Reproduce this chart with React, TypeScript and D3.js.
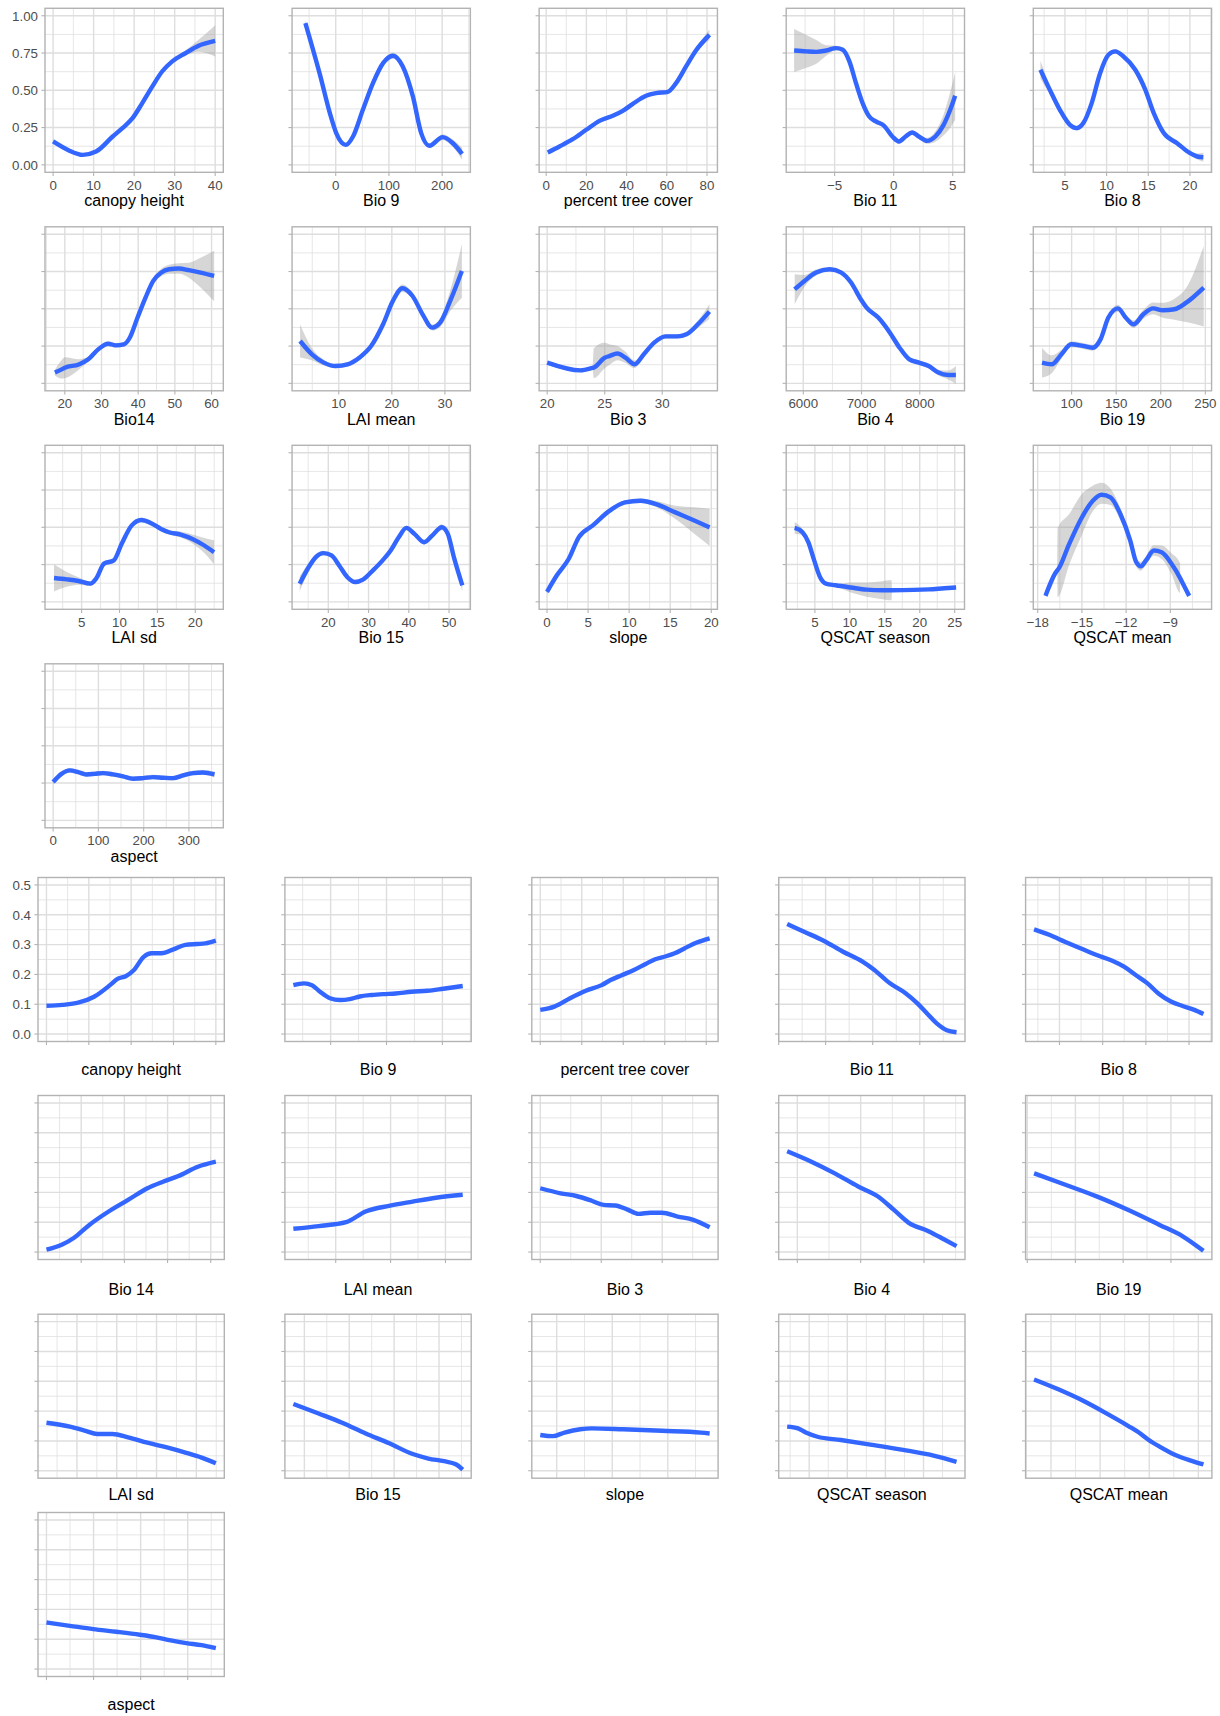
import React from "react";
import * as d3 from "d3";

// [x, fitted value, band below, band above]
type Pt = [number, number, number, number];
type BPt = [number, number];

// ---------------- Upper block: smooth fits with confidence bands ----------------
const canopyHeight: Pt[] = [[0,0.157,.015,.015],[3.67,0.1,.012,.012],[7.35,0.067,.01,.01],[10.6,0.089,.01,.01],[14.7,0.19,.01,.01],[17.1,0.246,.01,.01],[19.6,0.313,.01,.01],[22,0.414,.01,.01],[24.5,0.526,.01,.01],[26.9,0.626,.01,.01],[29.4,0.694,.012,.012],[32.7,0.75,.018,.018],[35.9,0.799,.04,.04],[40,0.832,.105,.105]];
const bio9: Pt[] = [[-57,0.951,.02,.02],[-30,0.61,.015,.015],[-11,0.347,.012,.012],[1,0.213,.012,.012],[19,0.134,.012,.012],[32.5,0.19,.012,.012],[51,0.369,.012,.012],[70,0.548,.012,.012],[89,0.682,.015,.015],[107.5,0.732,.02,.02],[126,0.66,.015,.015],[145,0.459,.012,.012],[160.6,0.213,.012,.012],[176,0.128,.015,.015],[201,0.186,.02,.02],[220,0.145,.025,.025],[237.5,0.074,.04,.04]];
const percentTreeCover: Pt[] = [[0.8,0.083,.012,.012],[6.6,0.123,.01,.01],[13.2,0.172,.01,.01],[19.9,0.235,.01,.01],[26.5,0.295,.01,.01],[33.1,0.329,.01,.01],[38.1,0.362,.01,.01],[43.1,0.409,.01,.01],[49.7,0.463,.01,.01],[54.7,0.481,.01,.01],[60.5,0.49,.01,.01],[64.6,0.548,.01,.01],[69.6,0.66,.012,.012],[74.5,0.767,.015,.015],[81.2,0.872,.035,.035]];
const bio11: Pt[] = [[-8.43,0.767,.145,.145],[-7.39,0.761,.11,.11],[-6.55,0.758,.08,.08],[-5.71,0.767,.035,.035],[-4.87,0.783,.015,.015],[-4.31,0.772,.015,.015],[-3.75,0.694,.015,.015],[-3.19,0.548,.015,.015],[-2.63,0.414,.015,.015],[-2.07,0.324,.015,.015],[-1.51,0.291,.015,.015],[-0.81,0.262,.015,.015],[-0.11,0.19,.015,.015],[0.45,0.157,.015,.015],[1.01,0.19,.015,.015],[1.57,0.217,.015,.015],[2.13,0.19,.015,.015],[2.83,0.161,.02,.02],[3.53,0.19,.035,.035],[4.23,0.268,.07,.07],[4.79,0.369,.12,.12],[5.21,0.463,.16,.16]];
const bio8: Pt[] = [[2.06,0.638,.06,.06],[3.19,0.503,.03,.03],[4.39,0.369,.015,.015],[5.6,0.268,.015,.015],[6.4,0.246,.015,.015],[7.21,0.28,.012,.012],[8.21,0.414,.012,.012],[9.22,0.615,.012,.012],[10.22,0.738,.015,.015],[11.03,0.761,.015,.015],[12.03,0.727,.015,.015],[13.44,0.638,.015,.015],[14.65,0.503,.015,.015],[15.66,0.347,.015,.015],[16.86,0.213,.015,.015],[18.47,0.145,.015,.015],[19.88,0.083,.015,.015],[20.88,0.056,.02,.02],[21.61,0.051,.03,.03]];
const bio14: Pt[] = [[17.3,0.072,.02,.02],[19,0.092,.06,.06],[20,0.105,.07,.07],[23.8,0.127,.035,.035],[26.4,0.161,.015,.015],[29.1,0.228,.015,.015],[31.8,0.266,.015,.015],[33.9,0.255,.015,.015],[36.1,0.262,.015,.015],[37.7,0.306,.015,.015],[39.8,0.44,.015,.015],[42,0.575,.015,.015],[44.1,0.687,.02,.02],[46.3,0.743,.025,.025],[48.4,0.765,.03,.03],[51.1,0.77,.035,.035],[53.8,0.759,.05,.05],[57,0.743,.1,.1],[60.7,0.72,.17,.17]];
const laiMean: Pt[] = [[2.71,0.284,.11,.11],[4.94,0.195,.04,.04],[7.17,0.139,.02,.02],[9.41,0.116,.015,.015],[11.64,0.127,.015,.015],[13.87,0.172,.015,.015],[16.1,0.25,.015,.015],[18.35,0.396,.015,.015],[20.2,0.553,.02,.02],[22,0.638,.025,.025],[23.9,0.586,.02,.02],[25.8,0.463,.015,.015],[27.6,0.374,.02,.02],[29.1,0.407,.03,.03],[31,0.553,.07,.07],[33.2,0.754,.18,.18]];
const bio3: Pt[] = [[20,0.139,.012,.012],[22.9,0.087,.012,.012],[23.95,0.104,.012,.012],[24.05,0.106,.07,.13],[25,0.172,.07,.1],[25.4,0.183,.06,.08],[26.1,0.2,.045,.05],[26.8,0.172,.035,.04],[27.6,0.128,.025,.025],[28.4,0.195,.015,.015],[29.3,0.273,.015,.015],[30.3,0.315,.015,.015],[31.3,0.315,.015,.015],[32.1,0.329,.015,.015],[33.1,0.396,.025,.025],[34.1,0.481,.05,.05]];
const bio4: Pt[] = [[5853,0.631,.1,.1],[6020,0.687,.04,.04],[6220,0.743,.02,.02],[6453,0.765,.015,.015],[6653,0.743,.015,.015],[6820,0.676,.015,.015],[6987,0.564,.015,.015],[7087,0.508,.015,.015],[7287,0.441,.015,.015],[7487,0.34,.015,.015],[7653,0.239,.015,.015],[7820,0.161,.015,.015],[7987,0.139,.015,.015],[8153,0.116,.015,.015],[8320,0.072,.02,.02],[8487,0.056,.03,.03],[8620,0.056,.06,.06]];
const bio19: Pt[] = [[66.8,0.139,.1,.1],[77.7,0.128,.06,.06],[88.6,0.195,.03,.03],[99.6,0.262,.02,.02],[112.7,0.251,.02,.02],[123.6,0.239,.02,.02],[132.4,0.295,.02,.02],[141.1,0.44,.02,.02],[152,0.503,.025,.025],[160.8,0.44,.02,.02],[169.5,0.396,.025,.025],[180.5,0.463,.03,.03],[191.4,0.503,.04,.04],[202.3,0.49,.05,.05],[215.4,0.497,.07,.07],[228.6,0.541,.13,.1],[248.2,0.642,.26,.28]];
const laiSd: Pt[] = [[1.36,0.16,.09,.09],[3.03,0.151,.05,.05],[4.58,0.14,.025,.025],[6.14,0.122,.015,.015],[6.92,0.156,.015,.015],[7.96,0.256,.015,.015],[9.25,0.278,.015,.015],[10.29,0.389,.015,.015],[11.59,0.511,.015,.015],[12.89,0.549,.015,.015],[14.18,0.527,.015,.015],[15.48,0.489,.015,.015],[16.52,0.467,.015,.015],[18.07,0.451,.02,.02],[19.63,0.422,.03,.03],[21.19,0.378,.05,.05],[22.48,0.333,.08,.08]];
const bio15: Pt[] = [[12.9,0.122,.05,.05],[14.9,0.222,.03,.03],[16.9,0.3,.02,.02],[18.8,0.327,.015,.015],[20.8,0.311,.015,.015],[22.7,0.244,.015,.015],[24.7,0.167,.015,.015],[26.7,0.133,.015,.015],[28.6,0.149,.015,.015],[31.1,0.211,.015,.015],[33.5,0.278,.015,.015],[35.5,0.344,.015,.015],[37.5,0.433,.015,.015],[39.4,0.496,.015,.015],[41.4,0.456,.015,.015],[43.8,0.4,.015,.015],[45.8,0.444,.015,.015],[48.2,0.5,.02,.02],[49.7,0.456,.02,.02],[51.2,0.3,.02,.02],[53.3,0.111,.04,.04]];
const slope: Pt[] = [[0,0.067,.015,.015],[1.2,0.178,.012,.012],[2.65,0.289,.01,.01],[3.86,0.433,.01,.01],[5.54,0.511,.01,.01],[7.59,0.61,.01,.01],[9.49,0.667,.012,.012],[11.38,0.678,.015,.015],[13.27,0.656,.02,.02],[15.63,0.6,.045,.045],[18,0.544,.09,.09],[19.8,0.5,.125,.125]];
const qscatSeason: Pt[] = [[2.11,0.496,.04,.04],[3.23,0.467,.02,.02],[4.06,0.4,.01,.01],[4.9,0.278,.01,.01],[5.73,0.167,.01,.01],[6.57,0.122,.008,.008],[7.96,0.111,.01,.01],[10.17,0.096,.033,.033],[12.4,0.082,.048,.048],[14.6,0.078,.06,.06],[15.95,0.078,.068,.068],[16.05,0.078,.004,.004],[19.1,0.08,.004,.004],[21.3,0.084,.004,.004],[23.5,0.091,.005,.005],[25.2,0.096,.006,.006]];
const qscatMean: Pt[] = [[-17.47,0.04,.004,.004],[-16.67,0.211,.004,.004],[-16.65,0.213,.18,.28],[-15.86,0.389,.14,.2],[-15.06,0.556,.12,.16],[-14.26,0.678,.07,.1],[-13.67,0.718,.06,.08],[-13.06,0.7,.05,.06],[-12.39,0.589,.04,.04],[-11.72,0.411,.03,.03],[-11.32,0.267,.03,.03],[-11,0.238,.03,.03],[-10.65,0.278,.03,.03],[-10.12,0.344,.035,.035],[-9.59,0.333,.045,.045],[-8.92,0.256,.07,.07],[-8.34,0.16,.1,.1],[-8.32,0.156,.004,.004],[-7.72,0.04,.004,.004]];
const aspect: Pt[] = [[0,0.257,.015,.015],[18.4,0.312,.015,.015],[36.8,0.335,.015,.015],[55.1,0.324,.015,.015],[73.5,0.308,.015,.015],[91.9,0.312,.015,.015],[110.3,0.317,.015,.015],[132.4,0.308,.015,.015],[154.4,0.295,.015,.015],[176.5,0.279,.015,.015],[198.5,0.283,.015,.015],[220.6,0.29,.015,.015],[242.6,0.286,.015,.015],[264.7,0.283,.015,.015],[286.8,0.301,.015,.015],[308.8,0.317,.015,.015],[330.9,0.321,.015,.015],[356.6,0.308,.02,.02]];

const topTitles = ["canopy height","Bio 9","percent tree cover","Bio 11","Bio 8","Bio14","LAI mean","Bio 3","Bio 4","Bio 19","LAI sd","Bio 15","slope","QSCAT season","QSCAT mean","aspect"];
const topXLims: [number, number][] = [[-2,42],[-82,253],[-3.5,85.2],[-9.1,6.0],[1.2,22.6],[14.6,63.2],[1.2,34.8],[19.3,34.8],[5707,8768],[57,257],[0.17,23.7],[11,55.3],[-0.96,20.75],[0.9,26.4],[-18.3,-6.2],[-18,376]];
const topXBreaks: number[][] = [[0,10,20,30,40],[0,100,200],[0,20,40,60,80],[-5,0,5],[5,10,15,20],[20,30,40,50,60],[10,20,30],[20,25,30],[6000,7000,8000],[100,150,200,250],[5,10,15,20],[20,30,40,50],[0,5,10,15,20],[5,10,15,20,25],[-18,-15,-12,-9],[0,100,200,300]];
const topSeries: Pt[][] = [canopyHeight,bio9,percentTreeCover,bio11,bio8,bio14,laiMean,bio3,bio4,bio19,laiSd,bio15,slope,qscatSeason,qscatMean,aspect];
const topYBreaks = [0, 0.25, 0.5, 0.75, 1];
const topYLabels = ["0.00","0.25","0.50","0.75","1.00"];

// ---------------- Lower block: fitted lines (x rescaled, 0..100 = data range) ----------------
const canopyHeightB: BPt[] = [[0,0.095],[9.4,0.098],[18.7,0.105],[28.1,0.125],[37.5,0.164],[42.2,0.186],[46.8,0.194],[51.5,0.214],[57.4,0.259],[62,0.271],[68,0.271],[75,0.284],[82,0.299],[89,0.302],[93.8,0.304],[100,0.313]];
const bio9B: BPt[] = [[0,0.164],[6.3,0.17],[11,0.164],[15.7,0.142],[21.6,0.12],[27.5,0.114],[33.3,0.117],[39.2,0.126],[46.2,0.131],[53.3,0.134],[60.4,0.136],[69.7,0.142],[79.1,0.145],[88.6,0.152],[100,0.161]];
const percentTreeCoverB: BPt[] = [[0,0.081],[8.3,0.092],[17.6,0.12],[26.9,0.145],[36.2,0.164],[41.5,0.181],[48.4,0.198],[55.3,0.215],[62.2,0.235],[67.9,0.251],[73.7,0.26],[79.4,0.271],[85.1,0.287],[92,0.306],[100,0.321]];
const bio11B: BPt[] = [[0,0.369],[10,0.343],[21.5,0.313],[33,0.276],[44.5,0.243],[51.5,0.215],[60.7,0.17],[69.9,0.137],[76.9,0.103],[82.6,0.069],[88.3,0.036],[94.2,0.013],[100,0.006]];
const bio8B: BPt[] = [[0,0.351],[9.3,0.332],[18.5,0.309],[27.7,0.287],[37,0.265],[46.2,0.246],[53.1,0.226],[60,0.198],[67,0.17],[73.8,0.134],[80.8,0.109],[87.7,0.094],[94.6,0.081],[100,0.067]];
const bio14B: BPt[] = [[0,0.008],[9.3,0.025],[16.1,0.047],[25.3,0.091],[36.7,0.136],[48.2,0.175],[59.6,0.214],[68.8,0.236],[77.9,0.255],[89.4,0.286],[100,0.303]];
const laiMeanB: BPt[] = [[0,0.078],[14.9,0.087],[31.1,0.1],[42.6,0.136],[56.5,0.155],[70.4,0.169],[84.2,0.182],[100,0.192]];
const bio3B: BPt[] = [[0,0.214],[12,0.197],[21.3,0.188],[30.4,0.172],[37.3,0.158],[44.3,0.156],[51.2,0.143],[58,0.128],[65,0.132],[71.9,0.132],[81.1,0.119],[90.3,0.108],[100,0.083]];
const bio4B: BPt[] = [[0,0.338],[14.3,0.303],[28.1,0.264],[41.9,0.22],[53.4,0.187],[62.7,0.143],[71.8,0.098],[83.4,0.07],[92.5,0.043],[100,0.02]];
const bio19B: BPt[] = [[0,0.264],[18.9,0.225],[37.3,0.186],[55.7,0.141],[74.1,0.091],[88,0.052],[100,0.004]];
const laiSdB: BPt[] = [[0,0.161],[13.8,0.148],[23,0.134],[29.9,0.123],[39,0.123],[48.2,0.112],[59.6,0.094],[71.1,0.078],[82.5,0.06],[91.6,0.044],[100,0.025]];
const bio15B: BPt[] = [[0,0.224],[14.9,0.192],[28.8,0.161],[42.7,0.125],[56.6,0.092],[70.5,0.056],[79.7,0.041],[89,0.032],[95.9,0.022],[100,0.004]];
const slopeB: BPt[] = [[0,0.12],[7.4,0.116],[14.3,0.128],[23.6,0.139],[30.4,0.142],[48.9,0.139],[71.9,0.134],[94.9,0.128],[100,0.125]];
const qscatSeasonB: BPt[] = [[0,0.148],[6.4,0.142],[11,0.128],[17.9,0.114],[31.7,0.103],[50.1,0.087],[68.5,0.07],[87,0.05],[100,0.03]];
const qscatMeanB: BPt[] = [[0,0.306],[14.3,0.273],[28.1,0.237],[41.9,0.195],[55.7,0.15],[62.7,0.125],[67.3,0.105],[74.1,0.081],[83.4,0.053],[92.6,0.034],[100,0.021]];
const aspectB: BPt[] = [[0,0.156],[13.8,0.145],[27.6,0.134],[41.3,0.125],[55.1,0.115],[64.2,0.107],[73.4,0.096],[82.5,0.087],[91.6,0.08],[100,0.07]];

const bottomTitles = ["canopy height","Bio 9","percent tree cover","Bio 11","Bio 8","Bio 14","LAI mean","Bio 3","Bio 4","Bio 19","LAI sd","Bio 15","slope","QSCAT season","QSCAT mean","aspect"];
const bottomXBreaks: number[][] = [[0,25,50,75,100],[22,55,88],[0,24.5,49,73.5,98],[-5,22.7,50.5,78.3],[15,40.5,66,91.5],[20.5,46,71.5,97],[25,57.4,89.8],[0,36,72],[6,43.4,80.8],[-4,24.4,52.6,80.8],[18,41.5,65,88.5],[6.5,33,59.5,86],[9.7,42.5,75.3],[13,35.5,58,80.5],[10,39,68,97],[0,27.8,55.6,83.4]];
const bottomSeries: BPt[][] = [canopyHeightB,bio9B,percentTreeCoverB,bio11B,bio8B,bio14B,laiMeanB,bio3B,bio4B,bio19B,laiSdB,bio15B,slopeB,qscatSeasonB,qscatMeanB,aspectB];
const bottomXLim: [number, number] = [-5, 105];
const bottomYBreaks = [0, 0.1, 0.2, 0.3, 0.4, 0.5];
const bottomYLabels = ["0.0","0.1","0.2","0.3","0.4","0.5"];

// ---------------- drawing ----------------
const FONT = '"Liberation Sans", Arial, Helvetica, sans-serif';
const GRID = "#DEDEDE";
const BORDER = "#B3B3B3";
const BLUE = "#3366FF";
const TICK_LEN = 3.6;
const TICK_FONT = 13.3;

function minorBreaks(major: number[], dom: [number, number]): number[] {
  if (major.length < 2) return [];
  const step = major[1] - major[0];
  const c = [major[0] - step / 2];
  for (let i = 1; i < major.length; i++) c.push((major[i - 1] + major[i]) / 2);
  c.push(major[major.length - 1] + step / 2);
  return c.filter(v => v >= dom[0] && v <= dom[1]);
}

function fmt(v: number): string {
  const s = String(v);
  return v < 0 ? "\u2212" + s.slice(1) : s;
}

type PanelProps = {
  left: number; top: number; width: number; height: number;
  xDom: [number, number]; yDom: [number, number];
  xBreaks: number[]; yBreaks: number[];
  xLabels: boolean; yLabels: string[] | null; xTicks: boolean;
  title: string; titleGap: number;
  band: Pt[] | null; line: [number, number][];
};

function Panel(p: PanelProps) {
  const xs = d3.scaleLinear().domain(p.xDom).range([p.left, p.left + p.width]);
  const ys = d3.scaleLinear().domain(p.yDom).range([p.top + p.height, p.top]);
  const xMinor = minorBreaks(p.xBreaks, p.xDom);
  const yMinor = minorBreaks(p.yBreaks, p.yDom);
  const bottom = p.top + p.height;
  const right = p.left + p.width;
  const lineGen = d3.line<[number, number]>().x(d => xs(d[0])).y(d => ys(d[1])).curve(d3.curveMonotoneX);
  const areaGen = d3.area<Pt>().x(d => xs(d[0])).y0(d => ys(d[1] - d[2])).y1(d => ys(d[1] + d[3])).curve(d3.curveMonotoneX);
  return (
    <g>
      <rect x={p.left} y={p.top} width={p.width} height={p.height} fill="#FFFFFF" />
      {xMinor.map((v, i) => <line key={"xm" + i} x1={xs(v)} x2={xs(v)} y1={p.top} y2={bottom} stroke={GRID} strokeWidth={0.75} />)}
      {yMinor.map((v, i) => <line key={"ym" + i} x1={p.left} x2={right} y1={ys(v)} y2={ys(v)} stroke={GRID} strokeWidth={0.75} />)}
      {p.xBreaks.map((v, i) => <line key={"xM" + i} x1={xs(v)} x2={xs(v)} y1={p.top} y2={bottom} stroke={GRID} strokeWidth={1.4} />)}
      {p.yBreaks.map((v, i) => <line key={"yM" + i} x1={p.left} x2={right} y1={ys(v)} y2={ys(v)} stroke={GRID} strokeWidth={1.4} />)}
      {p.band && <path d={areaGen(p.band) || ""} fill="#999999" fillOpacity={0.4} />}
      <path d={lineGen(p.line) || ""} fill="none" stroke={BLUE} strokeWidth={4.4} strokeLinecap="butt" strokeLinejoin="round" />
      <rect x={p.left} y={p.top} width={p.width} height={p.height} fill="none" stroke={BORDER} strokeWidth={1.4} />
      {p.yBreaks.map((v, i) => <line key={"yt" + i} x1={p.left - TICK_LEN} x2={p.left} y1={ys(v)} y2={ys(v)} stroke={BORDER} strokeWidth={1.1} />)}
      {p.xTicks && p.xBreaks.map((v, i) => <line key={"xt" + i} x1={xs(v)} x2={xs(v)} y1={bottom} y2={bottom + TICK_LEN} stroke={BORDER} strokeWidth={1.1} />)}
      {p.yLabels && p.yBreaks.map((v, i) => (
        <text key={"yl" + i} x={p.left - 7} y={ys(v)} dy="0.36em" textAnchor="end" fontSize={TICK_FONT} fill="#4D4D4D" fontFamily={FONT}>{p.yLabels![i]}</text>
      ))}
      {p.xLabels && p.xBreaks.map((v, i) => (
        <text key={"xl" + i} x={xs(v)} y={bottom + 17.3} textAnchor="middle" fontSize={TICK_FONT} fill="#4D4D4D" fontFamily={FONT}>{fmt(v)}</text>
      ))}
      <text x={p.left + p.width / 2} y={bottom + p.titleGap} textAnchor="middle" fontSize={16} fill="#000000" fontFamily={FONT}>{p.title}</text>
    </g>
  );
}

export default function App() {
  const W = 1220, H = 1716;
  const topLeft0 = 45, topPitchX = 247.07, topW = 178.3;
  const topTop0 = 8.3, topPitchY = 218.5, panelH = 164;
  const botLeft0 = 38, botPitchX = 246.9, botW = 186.3;
  const botTops = [877.5, 1095.5, 1314.2, 1512.5];
  const botTitleGaps = [33.5, 35, 21.5, 33.5];

  const panels: React.ReactNode[] = [];
  topTitles.forEach((t, i) => {
    const c = i % 5, r = Math.floor(i / 5);
    const s = topSeries[i];
    panels.push(
      <Panel key={"t" + i}
        left={topLeft0 + c * topPitchX} top={topTop0 + r * topPitchY} width={topW} height={panelH}
        xDom={topXLims[i]} yDom={[-0.05, 1.05]}
        xBreaks={topXBreaks[i]} yBreaks={topYBreaks}
        xLabels={true} yLabels={i === 0 ? topYLabels : null} xTicks={true}
        title={t} titleGap={34}
        band={s} line={s.map(d => [d[0], d[1]] as [number, number])} />
    );
  });
  bottomTitles.forEach((t, i) => {
    const c = i % 5, r = Math.floor(i / 5);
    const noTicks = r === 2;
    panels.push(
      <Panel key={"b" + i}
        left={botLeft0 + c * botPitchX} top={botTops[r]} width={botW} height={panelH}
        xDom={bottomXLim} yDom={[-0.025, 0.525]}
        xBreaks={bottomXBreaks[i]} yBreaks={bottomYBreaks}
        xLabels={false} yLabels={i === 0 ? bottomYLabels : null} xTicks={!noTicks}
        title={t} titleGap={botTitleGaps[r]}
        band={null} line={bottomSeries[i]} />
    );
  });

  return (
    <svg width={W} height={H} viewBox={`0 0 ${W} ${H}`}
      style={{ position: "absolute", left: 0, top: 0, display: "block", background: "#FFFFFF" }}>
      <rect x={0} y={0} width={W} height={H} fill="#FFFFFF" />
      {panels}
    </svg>
  );
}
